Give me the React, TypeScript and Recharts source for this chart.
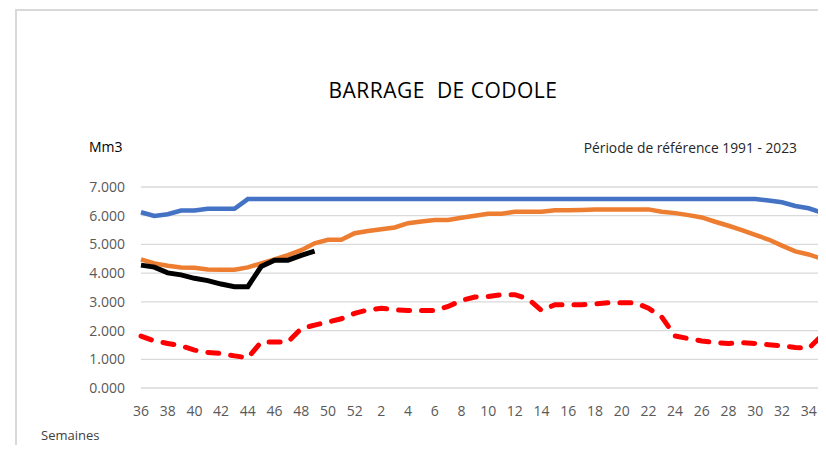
import { LineChart, Line, XAxis, YAxis, CartesianGrid } from "recharts";

// hydrological weeks, september to august
const weeks = [
  36, 37, 38, 39, 40, 41, 42, 43, 44, 45, 46, 47, 48, 49, 50, 51, 52,
  1, 2, 3, 4, 5, 6, 7, 8, 9, 10, 11, 12, 13, 14, 15, 16, 17, 18, 19, 20,
  21, 22, 23, 24, 25, 26, 27, 28, 29, 30, 31, 32, 33, 34, 35,
];

const maxVol = [
  6.12, 5.99, 6.05, 6.18, 6.18, 6.24, 6.24, 6.24, 6.58, 6.58, 6.58, 6.58, 6.58, 6.58, 6.58, 6.58, 6.58,
  6.58, 6.58, 6.58, 6.58, 6.58, 6.58, 6.58, 6.58, 6.58, 6.58, 6.58, 6.58, 6.58, 6.58, 6.58, 6.58, 6.58,
  6.58, 6.58, 6.58, 6.58, 6.58, 6.58, 6.58, 6.58, 6.58, 6.58, 6.58, 6.58, 6.58, 6.53, 6.47, 6.34, 6.26, 6.11,
];

const meanVol = [
  4.48, 4.34, 4.26, 4.2, 4.19, 4.13, 4.12, 4.12, 4.2, 4.34, 4.48, 4.63, 4.8, 5.04, 5.16, 5.16, 5.39,
  5.47, 5.53, 5.59, 5.74, 5.8, 5.85, 5.85, 5.93, 6.0, 6.07, 6.07, 6.14, 6.14, 6.14, 6.19, 6.19, 6.2,
  6.22, 6.22, 6.22, 6.22, 6.22, 6.14, 6.09, 6.02, 5.94, 5.79, 5.65, 5.5, 5.33, 5.17, 4.96, 4.76, 4.65, 4.5,
];

const currentVol = [
  4.28, 4.21, 4.01, 3.94, 3.82, 3.74, 3.62, 3.53, 3.53, 4.23, 4.45, 4.45, 4.62, 4.77,
];

const minVol = [
  1.81, 1.64, 1.55, 1.47, 1.32, 1.24, 1.2, 1.12, 1.05, 1.6, 1.6, 1.6, 2.07, 2.19, 2.3, 2.41, 2.6,
  2.72, 2.78, 2.72, 2.7, 2.7, 2.7, 2.84, 3.05, 3.17, 3.19, 3.25, 3.25, 3.1, 2.7, 2.9, 2.9, 2.9,
  2.93, 2.97, 2.97, 2.97, 2.78, 2.47, 1.81, 1.72, 1.64, 1.58, 1.55, 1.58, 1.55, 1.51, 1.47, 1.41, 1.38, 1.83,
];

const yTicks = [0, 1, 2, 3, 4, 5, 6, 7];

const data = weeks.map((w, i) => ({
  week: String(w),
  max: maxVol[i],
  mean: meanVol[i],
  current: i < currentVol.length ? currentVol[i] : null,
  min: minVol[i],
}));

const FONT = "'Open Sans', sans-serif";

export default function App() {
  return (
    <div
      style={{
        position: "relative",
        width: 826,
        height: 453,
        margin: -8,
        background: "#fff",
        fontFamily: FONT,
        overflow: "hidden",
      }}
    >
      {/* frame of the previous chart and of this one */}
      <div style={{ position: "absolute", left: 15, top: -4, width: 830, height: 8, borderLeft: "2px solid #d9d9d9", borderBottom: "2px solid #d9d9d9" }} />
      <div style={{ position: "absolute", left: 15, top: 9, width: 830, height: 460, borderLeft: "2px solid #d9d9d9", borderTop: "2px solid #d9d9d9" }} />

      <LineChart
        width={826}
        height={453}
        data={data}
        margin={{ top: 187, right: 4, bottom: 35, left: 81 }}
        style={{ position: "absolute", left: 0, top: 0 }}
      >
        <CartesianGrid vertical={false} stroke="#d9d9d9" strokeWidth={1.3} />
        <XAxis
          dataKey="week"
          interval={1}
          height={30}
          tickLine={false}
          axisLine={false}
          tickMargin={12}
          tick={{ fill: "#595959", fontSize: 14, fontFamily: FONT }}
        />
        <YAxis
          domain={[0, 7]}
          ticks={yTicks}
          width={60}
          tickLine={false}
          axisLine={false}
          tickMargin={10}
          tickFormatter={(v) => v.toFixed(3)}
          tick={{ fill: "#595959", fontSize: 14, fontFamily: FONT }}
        />
        <Line type="linear" dataKey="max" stroke="#4472c4" strokeWidth={4.5} dot={false} isAnimationActive={false} />
        <Line type="linear" dataKey="mean" stroke="#ed7d31" strokeWidth={4.5} dot={false} isAnimationActive={false} />
        <Line type="linear" dataKey="current" stroke="#000000" strokeWidth={5} dot={false} isAnimationActive={false} />
        <Line
          type="linear"
          dataKey="min"
          stroke="#ff0000"
          strokeWidth={5}
          strokeDasharray="11 12"
          strokeLinecap="round"
          dot={false}
          isAnimationActive={false}
        />
      </LineChart>

      <div style={{ position: "absolute", left: 243, top: 75, width: 400, lineHeight: "30px", textAlign: "center", fontSize: 21, letterSpacing: 0.5, color: "#000" }}>
        BARRAGE&nbsp; DE CODOLE
      </div>
      <div style={{ position: "absolute", left: 89, top: 137, lineHeight: "20px", fontSize: 14, color: "#000" }}>Mm3</div>
      <div style={{ position: "absolute", right: 29, top: 138, lineHeight: "20px", fontSize: 13.8, color: "#262626" }}>
        Période de référence 1991 - 2023
      </div>
      <div style={{ position: "absolute", left: 41, top: 425, lineHeight: "20px", fontSize: 13, color: "#404040" }}>Semaines</div>
    </div>
  );
}
